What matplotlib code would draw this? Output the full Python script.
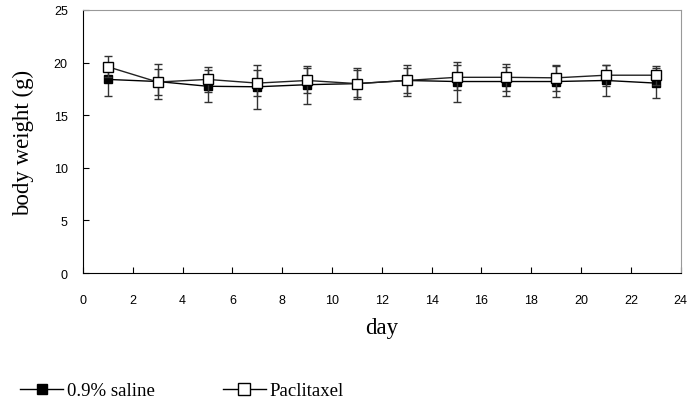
import matplotlib
matplotlib.use("Agg")
import matplotlib.pyplot as plt
from matplotlib.lines import Line2D

days = [1, 3, 5, 7, 9, 11, 13, 15, 17, 19, 21, 23]
saline = [18.4, 18.2, 17.75, 17.7, 17.9, 18.0, 18.3, 18.2, 18.2, 18.2, 18.3, 18.05]
saline_err = [1.6, 1.7, 1.5, 2.1, 1.8, 1.5, 1.5, 1.9, 1.4, 1.5, 1.5, 1.4]
paclitaxel = [19.6, 18.15, 18.4, 18.05, 18.3, 18.0, 18.3, 18.6, 18.6, 18.55, 18.8, 18.8]
paclitaxel_err = [1.0, 1.2, 1.2, 1.2, 1.2, 1.3, 1.2, 1.2, 1.3, 1.25, 1.0, 0.9]

fig = plt.figure(figsize=(6.89, 4.06), dpi=100)
ax = fig.add_axes([0.1205, 0.325, 0.8675, 0.648])

ax.errorbar(days, saline, yerr=saline_err, color="black", ecolor="#333333",
            marker="s", markersize=6, markerfacecolor="black", markeredgecolor="black",
            linewidth=1, elinewidth=1, capsize=3, capthick=1, zorder=3)
ax.errorbar(days, paclitaxel, yerr=paclitaxel_err, color="#222222", ecolor="#333333",
            marker="s", markersize=6.5, markerfacecolor="white", markeredgecolor="black",
            linewidth=1, elinewidth=1, capsize=3, capthick=1, zorder=4)

ax.set_xlim(0, 24)
ax.set_ylim(0, 25)
ax.set_xticks(range(0, 25, 2))
ax.set_yticks(range(0, 26, 5))
ax.tick_params(direction="in", length=4, labelsize=9)
ax.tick_params(axis="x", pad=15)
ax.tick_params(axis="y", pad=11)
for lab in ax.get_xticklabels() + ax.get_yticklabels():
    lab.set_fontfamily("Liberation Sans")

ax.spines["top"].set_color("#999999")
ax.spines["right"].set_color("#999999")
ax.spines["left"].set_color("black")
ax.spines["bottom"].set_color("black")

ax.set_xlabel("day", family="Liberation Serif", fontsize=16.5, labelpad=8)
ax.set_ylabel("body weight (g)", family="Liberation Serif", fontsize=16.5, labelpad=14)

handles = [
    Line2D([], [], color="black", linewidth=1, marker="s", markersize=7,
           markerfacecolor="black", markeredgecolor="black"),
    Line2D([], [], color="black", linewidth=1, marker="s", markersize=8,
           markerfacecolor="white", markeredgecolor="black"),
]
fig.legend(handles, ["0.9% saline", "Paclitaxel"], loc="center left",
           bbox_to_anchor=(0.005, 0.035), ncol=2, frameon=False,
           prop={"family": "Liberation Serif", "size": 13.5}, handlelength=2.3,
           columnspacing=3.6, handletextpad=0.2)

fig.savefig("out.png", dpi=100)
